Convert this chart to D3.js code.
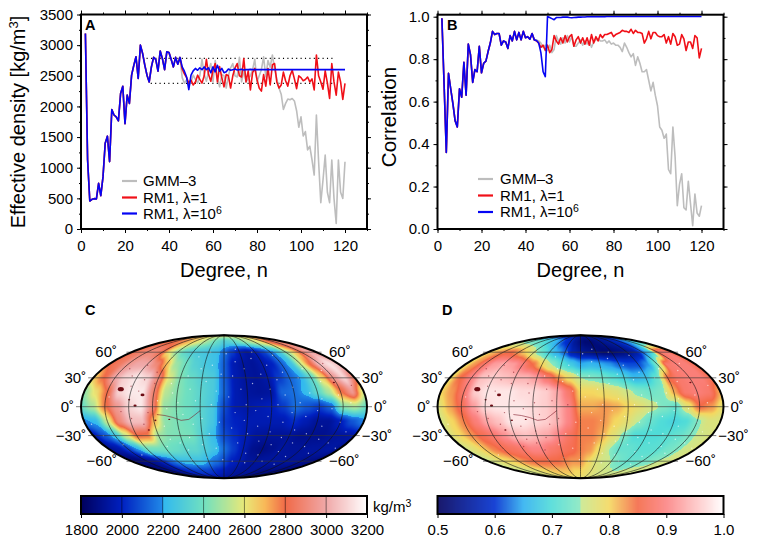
<!DOCTYPE html>
<html><head><meta charset="utf-8">
<script src="https://cdn.jsdelivr.net/npm/d3@7/dist/d3.min.js"></script>
<style>
html,body{margin:0;padding:0;background:#fff}
svg{display:block}
text{font-family:"Liberation Sans",Arial,Helvetica,sans-serif;fill:#000}
</style></head><body>
<svg id="chart" width="762" height="547"></svg>
<script>
// ---------- Panel A values (degree n = 2..120) ----------
const degrees = d3.range(2,121);
const sharedA = [3190,1125,456,485,495,490,745,545,850,1400,1515,1100,1950,1860,1830,1765,2210,2330,1720,2185,2050,2510,2670,2810,2455,3000,2865,2675,2510,2400,2645,2800,2765,2575,2905,2780,2600,2890,2880,2765,2645,2800,2690,2800];
const blueATail = [2645,2575,2480,2275,2510,2580,2620,2590,2630,2600,2645,2600,2630,2550,2645,2565,2670,2575,2620,2550,2565,2610,2590,2600,2610,2595,2600,2605,2595,2600,2600,2605,2600,2600,2600,2600,2600,2600,2600,2600,2600,2600,2600,2600,2600,2600,2600,2600,2600,2600,2600,2600,2600,2600,2600,2600,2600,2600,2600,2600,2600,2600,2600,2600,2600,2600,2600,2600,2600,2600,2600,2600,2600,2600,2600];
const redATail = [2610,2530,2470,2380,2430,2350,2400,2510,2440,2380,2500,2770,2520,2410,2590,2700,2400,2650,2470,2320,2520,2500,2300,2500,2630,2700,2500,2480,2780,2400,2580,2270,2550,2620,2440,2300,2250,2520,2330,2620,2350,2680,2700,2400,2300,2350,2560,2420,2330,2500,2590,2450,2290,2500,2470,2420,2440,2480,2400,2450,2270,2840,2500,2400,2280,2580,2380,2130,2700,2400,2185,2560,2400,2115,2375];
const grayATail = [2470,2380,2430,2350,2400,2510,2440,2380,2500,2770,2520,2410,2590,2700,2400,2750,2470,2320,2520,2500,2300,2500,2630,2700,2500,2480,2800,2400,2580,2400,2450,2500,2600,2770,2400,2500,2600,2810,2480,2750,2640,2840,2600,2450,2300,2200,1950,2050,2120,2110,2130,2090,1930,1660,1830,1517,1590,1290,1350,1130,880,1860,1100,430,800,1205,600,430,1125,500,90,1125,600,500,1098];
const grayA = sharedA.concat(grayATail);
const redA  = sharedA.concat(redATail);
const blueA = sharedA.concat(blueATail);
const boundHigh = [[29.8,2785],[114.5,2785]];
const boundLow  = [[31.7,2375],[114.5,2375]];

// ---------- Panel B values (degree n = 2..120) ----------
const sharedB = [.992,.68,.36,.733,.66,.59,.51,.48,.66,.62,.785,.63,.87,.82,.69,.75,.74,.86,.735,.78,.79,.835,.875,.93,.915,.92,.92,.865,.885,.88,.85,.91,.885,.93,.89,.925,.89,.93,.90,.905,.893,.92];
const blueBTail = [.89,.887,.875,.83,.74,.717,1.0,.995,.99,.985,.995,.995,.995,.997,.997,.997,.995,.994,.995,.996,.997,.997,.998,.998,.999,.999,.999,.999,.999,.999,.999,.999,.999,1,1,1,1,1,1,1,1,1,1,1,1,1,1,1,1,1,1,1,1,1,1,1,1,1,1,1,1,1,1,1,1,1,1,1,1,1,1,1,1,1,1,1,1];
const redBTail = [.89,.885,.875,.855,.865,.84,.865,.83,.845,.91,.885,.87,.90,.875,.91,.88,.905,.915,.86,.89,.905,.875,.90,.87,.90,.865,.915,.875,.905,.885,.915,.90,.915,.915,.92,.925,.905,.915,.92,.925,.935,.93,.93,.925,.94,.92,.935,.925,.925,.92,.875,.895,.93,.895,.925,.925,.91,.905,.905,.915,.875,.905,.87,.92,.905,.865,.87,.915,.895,.84,.88,.88,.85,.91,.90,.805,.85];
const grayBTail = [.89,.885,.875,.855,.865,.84,.865,.83,.845,.91,.885,.87,.90,.875,.91,.88,.905,.86,.86,.875,.89,.865,.885,.87,.885,.855,.88,.89,.895,.885,.885,.89,.875,.885,.87,.875,.865,.865,.855,.835,.875,.855,.83,.81,.825,.77,.81,.78,.74,.74,.75,.70,.65,.69,.63,.58,.48,.465,.427,.447,.28,.26,.48,.34,.11,.21,.26,.10,.09,.225,.12,.016,.165,.075,.06,.11];
const blueB = sharedB.concat(blueBTail);
const redB  = sharedB.concat(redBTail);
const grayB = sharedB.concat([.89],grayBTail);

// ---------- Legend / labels ----------
const xTickValues = [0,20,40,60,80,100,120];
const xMinorValues = d3.range(0,131,10);
const yTicksA = [0,500,1000,1500,2000,2500,3000,3500];
const yMinorA = d3.range(0,3501,250);
const yTicksB = [0,.2,.4,.6,.8,1];
const yMinorB = [0,.1,.2,.3,.4,.5,.6,.7,.8,.9,1];
const cbTicksC = [1800,2000,2200,2400,2600,2800,3000,3200];
const cbTicksD = [.5,.6,.7,.8,.9,1];
const latLabels = [60,30,0,-30,-60];
const meridians = d3.range(-150,151,30);
const parallels = [60,30,0,-30,-60];

// ---------- Colour ramps ----------
const rampCDomain = [1800,2000,2199,2200,2400,2600,2700,2800,3000,3200];
const rampCColors = ["#00005c","#0020c0","#2088e8","#30b8f0","#70e0c0","#e8e878","#f8b858","#f06a48","#f0a8a8","#ffffff"];
const rampDDomain = [.5,.6,.65,.7,.7495,.75,.8,.85,.9,1];
const rampDColors = ["#00005c","#0030d0","#30b0f0","#50dcd8","#88e8c0","#c8e890","#f4d860","#f46a48","#fc8484","#ffffff"];

// ---------- Map fields: rows lat 90..-90 step 15, columns lon -180..180 step 15 ----------
const fieldC = [
[2600,2600,2600,2600,2600,2600,2600,2600,2600,2600,2600,2600,2600,2600,2600,2600,2600,2600,2600,2600,2600,2600,2600,2600,2600],
[2750,2800,2800,2780,2750,2700,2640,2580,2520,2460,2400,2350,2300,2320,2350,2400,2450,2500,2560,2600,2720,2800,2850,2880,2800],
[2800,2860,2900,2900,2820,2600,2450,2350,2300,2280,2260,2240,2150,2050,1970,1930,1970,2050,2150,2250,2450,2650,2850,3000,2950],
[2800,2850,2950,3000,3000,2900,2700,2480,2400,2320,2280,2250,2120,1970,1930,1920,1950,2000,2120,2250,2550,2800,3050,3130,3050],
[2650,2800,3000,3100,3150,3100,2900,2580,2430,2370,2320,2290,2120,1970,1930,1920,1950,2050,2130,2200,2350,2650,2950,3100,2850],
[2450,2620,2800,3100,3150,3150,2880,2520,2440,2390,2340,2290,2130,1970,1930,1920,1930,2130,2150,2220,2350,2500,2780,2950,2550],
[2380,2500,2780,2950,3100,3150,2900,2470,2430,2390,2340,2280,2080,1970,1950,1970,1990,2050,2150,2100,2050,2130,2450,2500,2380],
[2180,2220,2550,2900,3050,3050,2700,2450,2420,2400,2340,2270,2050,2000,1970,1970,1970,1970,2020,1970,1920,1920,1990,2100,2180],
[1950,2100,2250,2550,2800,2780,2480,2430,2420,2410,2320,2230,2080,2020,1970,1930,1920,1920,1920,1900,1900,1900,1920,1930,1950],
[1900,1950,2050,2200,2400,2400,2400,2380,2350,2350,2300,2250,2150,2050,1970,1900,1880,1900,1930,1920,1920,1930,1930,1940,1900],
[1850,1850,1880,1920,2000,2120,2200,2240,2250,2250,2200,2150,2080,2000,1970,1930,1920,1930,1930,1930,1920,1920,1900,1880,1850],
[1850,1850,1880,1900,1950,2000,2020,2050,2050,2050,2030,2000,1980,1950,1930,1920,1920,1920,1900,1880,1880,1870,1860,1850,1850],
[1900,1900,1900,1900,1900,1900,1900,1900,1900,1900,1900,1900,1900,1900,1900,1900,1900,1900,1900,1900,1900,1900,1900,1900,1900]
];
const fieldD = [
[.55,.55,.55,.55,.55,.55,.55,.55,.55,.55,.55,.55,.55,.55,.55,.55,.55,.55,.55,.55,.55,.55,.55,.55,.55],
[.76,.75,.74,.73,.72,.70,.68,.66,.63,.60,.58,.55,.53,.52,.52,.53,.54,.55,.56,.58,.60,.63,.66,.70,.75],
[.79,.82,.84,.85,.83,.80,.76,.72,.68,.65,.62,.57,.55,.54,.53,.52,.52,.53,.54,.56,.62,.68,.87,.89,.84],
[.79,.83,.88,.92,.93,.92,.89,.85,.80,.75,.71,.68,.65,.66,.65,.64,.62,.61,.61,.64,.74,.88,.89,.89,.86],
[.79,.85,.90,.95,.96,.95,.94,.94,.92,.88,.83,.79,.75,.74,.73,.71,.69,.66,.67,.72,.85,.88,.89,.89,.86],
[.80,.83,.88,.96,.98,.98,.98,.97,.97,.96,.93,.88,.80,.80,.79,.78,.76,.74,.73,.74,.82,.88,.89,.88,.82],
[.77,.82,.86,.92,.97,.98,.98,.98,.97,.96,.94,.90,.82,.82,.83,.82,.80,.78,.76,.74,.72,.78,.85,.83,.78],
[.76,.80,.84,.89,.93,.95,.98,.98,.97,.96,.94,.90,.84,.84,.83,.80,.78,.75,.72,.70,.69,.70,.74,.77,.77],
[.77,.80,.83,.86,.88,.91,.94,.95,.94,.93,.90,.87,.84,.84,.82,.78,.74,.70,.70,.70,.71,.72,.74,.76,.77],
[.76,.78,.81,.84,.86,.87,.88,.90,.90,.88,.87,.86,.84,.83,.79,.75,.72,.72,.71,.71,.71,.73,.74,.76,.77],
[.75,.77,.79,.80,.82,.84,.85,.85,.85,.85,.84,.83,.83,.80,.77,.76,.75,.73,.72,.72,.73,.74,.75,.76,.77],
[.75,.76,.76,.77,.78,.79,.80,.81,.81,.81,.81,.80,.80,.79,.78,.77,.76,.76,.75,.75,.76,.76,.76,.76,.76],
[.78,.78,.78,.78,.78,.78,.78,.78,.78,.78,.78,.78,.78,.78,.78,.78,.78,.78,.78,.78,.78,.78,.78,.78,.78]
];
// Dark volcano / canyon features on both maps [lon, lat, radius]
const darkSpots = [[-134,18,3.0],[-112,1,1.6],[-104,12,2.0],[-120,7,1.1],[-70,-13,1.0],[-88,-14,1.1],[-100,-24,1.1],[147,25,1.1]];
const canyon = [[-85,-8],[-75,-9],[-65,-11],[-55,-14],[-45,-13],[-38,-9],[-30,-4]];
// Cratered-terrain flecks, placed by eye [lon, lat]
const flecks = [[-140,40],[-128,32],[-118,44],[-108,28],[-96,36],[-122,21],[-110,16],[-92,24],[-146,10],[-130,-5],[-118,-12],[-104,-18],[-96,-6],[-84,6],[-78,-20],[-72,-2],[-66,14],[-60,-25],[-58,4],[-52,-8],[-48,-32],[-44,18],[-40,-18],[-36,6],[-32,-40],[-28,-12],[-24,26],[-20,-28],[-16,2],[-12,-44],[-10,16],[-6,-16],[-4,34],[-64,-38],[-56,-46],[-76,-34],[-86,-42],[-94,-30],[-70,24],[-50,32],[-34,40],[-18,44],
[6,10],[10,-22],[12,32],[14,-6],[18,48],[20,-38],[22,18],[26,-14],[28,2],[30,40],[32,-28],[36,-50],[38,24],[40,-4],[44,-20],[46,52],[48,8],[50,-36],[52,34],[56,-10],[58,-52],[60,18],[62,-26],[66,44],[68,2],[70,-40],[72,28],[76,-16],[78,12],[80,-32],[84,36],[86,-6],[88,-48],[90,20],[94,-24],[96,4],[100,-38],[102,30],[104,-10],[108,-54],[110,14],[112,-28],[116,40],[118,-4],[122,-42],[124,8],[128,-20],[130,26],[134,-34],[136,-2],[140,-50],[142,38],[146,12],[150,-16],[152,-38],[156,46],[160,4],[164,-26],[168,22],[172,-44],
[-2,-58],[16,-60],[42,-62],[74,-60],[106,-64],[-30,-55],[-60,-58],[-44,54],[-26,60],[4,58],[24,64],[54,60],[88,56],[-150,-40],[-166,-30],[-140,-52],[-172,-18]];

// ---------- Drawing ----------
const svg = d3.select("#chart");
const FONT = 15;
const TITLE = 20;

function lineAxes(g, x, y, yTicks, yMinor, yFmt){
  const [x0,x1]=x.range(), [y0,y1]=y.range();
  const style = s => s.call(a=>a.select(".domain").remove())
     .call(a=>a.selectAll("line").attr("stroke","#000").attr("stroke-width",1))
     .call(a=>a.selectAll("text").attr("font-size",FONT));
  g.append("g").attr("transform",`translate(0,${y0})`).call(d3.axisBottom(x).tickValues(xMinorValues).tickSize(2).tickFormat("")).call(style);
  g.append("g").attr("transform",`translate(0,${y1})`).call(d3.axisTop(x).tickValues(xMinorValues).tickSize(2).tickFormat("")).call(style);
  g.append("g").attr("transform",`translate(${x0},0)`).call(d3.axisLeft(y).tickValues(yMinor).tickSize(2).tickFormat("")).call(style);
  g.append("g").attr("transform",`translate(${x1},0)`).call(d3.axisRight(y).tickValues(yMinor).tickSize(2).tickFormat("")).call(style);
  g.append("g").attr("transform",`translate(0,${y0})`).call(d3.axisBottom(x).tickValues(xTickValues).tickSize(4).tickPadding(7).tickFormat(d3.format("d"))).call(style);
  g.append("g").attr("transform",`translate(0,${y1})`).call(d3.axisTop(x).tickValues(d3.range(0,131,20)).tickSize(4).tickFormat("")).call(style);
  g.append("g").attr("transform",`translate(${x0},0)`).call(d3.axisLeft(y).tickValues(yTicks).tickSize(4).tickPadding(4).tickFormat(yFmt)).call(style);
  g.append("g").attr("transform",`translate(${x1},0)`).call(d3.axisRight(y).tickValues(yTicks).tickSize(4).tickFormat("")).call(style);
  g.append("rect").attr("x",x0).attr("y",y1).attr("width",x1-x0).attr("height",y0-y1)
    .attr("fill","none").attr("stroke","#000").attr("stroke-width",2);
}
function drawSeries(g,x,y,vals,color){
  g.append("path").datum(vals.map((v,i)=>[degrees[i],v]))
   .attr("fill","none").attr("stroke",color).attr("stroke-width",1.6).attr("stroke-linejoin","round")
   .attr("d",d3.line().x(d=>x(d[0])).y(d=>y(d[1])));
}
const GRAY="#bdbdbd",RED="#f01018",BLUE="#0404f4";
function legend(g,x0,tx,ys){
  const items=[[GRAY,"GMM\u20133"],[RED,"RM1, \u03bb=1"],[BLUE,"RM1, \u03bb=10"]];
  items.forEach((it,i)=>{
    g.append("line").attr("x1",x0).attr("x2",x0+15).attr("y1",ys[i]).attr("y2",ys[i]).attr("stroke",it[0]).attr("stroke-width",2.2);
    const t=g.append("text").attr("x",tx).attr("y",ys[i]+5).attr("font-size",FONT).text(it[1]);
    if(i==2) t.append("tspan").attr("dy",-5).attr("font-size",10.5).text("6");
  });
}

// Panel A
const xA=d3.scaleLinear([0,130],[81,367]);
const yA=d3.scaleLinear([0,3500],[229,14.5]);
const gA=svg.append("g");
[boundHigh,boundLow].forEach(b=>gA.append("line").attr("x1",xA(b[0][0])).attr("x2",xA(b[1][0])).attr("y1",yA(b[0][1])).attr("y2",yA(b[1][1]))
   .attr("stroke","#000").attr("stroke-width",1.2).attr("stroke-dasharray","1.1 3.3"));
drawSeries(gA,xA,yA,grayA,GRAY);
drawSeries(gA,xA,yA,redA,RED);
drawSeries(gA,xA,yA,blueA,BLUE);
lineAxes(gA,xA,yA,yTicksA,yMinorA,d3.format("d"));
legend(gA,122,143,[181,197.5,213.5]);
gA.append("text").attr("x",85).attr("y",29.5).attr("font-size",14.5).attr("font-weight","bold").text("A");
gA.append("text").attr("x",224).attr("y",277).attr("text-anchor","middle").attr("font-size",TITLE).text("Degree, n");
const yl=gA.append("text").attr("transform","translate(25,122) rotate(-90)").attr("text-anchor","middle").attr("font-size",TITLE).text("Effective density [kg/m");
yl.append("tspan").attr("dy",-7).attr("font-size",13).text("3");
yl.append("tspan").attr("dy",7).text("]");

// Panel B
const xB=d3.scaleLinear([0,130],[437.5,723.5]);
const yB=d3.scaleLinear([0,1],[229,16.5]);
const gB=svg.append("g");
drawSeries(gB,xB,yB,grayB,GRAY);
drawSeries(gB,xB,yB,redB,RED);
drawSeries(gB,xB,yB,blueB,BLUE);
lineAxes(gB,xB,d3.scaleLinear([0,1.0094],[229,14.7]),yTicksB,yMinorB,d3.format(".1f"));
legend(gB,478,500,[179,195.5,212]);
gB.append("text").attr("x",447).attr("y",29.5).attr("font-size",14.5).attr("font-weight","bold").text("B");
gB.append("text").attr("x",580.5).attr("y",277).attr("text-anchor","middle").attr("font-size",TITLE).text("Degree, n");
gB.append("text").attr("transform","translate(396,117) rotate(-90)").attr("text-anchor","middle").attr("font-size",TITLE+.5).text("Correlation");

// Mollweide raw projection
function mollweideRaw(l,p){
  const target=Math.PI*Math.sin(p);
  let t=p;
  for(let i=0;i<30;i++){
    const d=(2*t+Math.sin(2*t)-target)/(2+2*Math.cos(2*t)+1e-12);
    t-=d; if(Math.abs(d)<1e-9)break;
  }
  return [2*Math.SQRT2/Math.PI*l*Math.cos(t),Math.SQRT2*Math.sin(t)];
}
mollweideRaw.invert=function(x,y){
  const t=Math.asin(Math.max(-1,Math.min(1,y/Math.SQRT2)));
  return [Math.PI*x/(2*Math.SQRT2*Math.cos(t)),Math.asin(Math.max(-1,Math.min(1,(2*t+Math.sin(2*t))/Math.PI)))];
};

function sampleField(f,lon,lat){
  const c=(lon+180)/15, r=(90-lat)/15;
  const c0=Math.min(23,Math.floor(c)), r0=Math.min(11,Math.floor(r));
  const a=c-c0,b=r-r0;
  const sa=a*a*(3-2*a)*.7+a*.3, sb=b*b*(3-2*b)*.7+b*.3;
  return (f[r0][c0]*(1-sa)+f[r0][c0+1]*sa)*(1-sb)+(f[r0+1][c0]*(1-sa)+f[r0+1][c0+1]*sa)*sb;
}

function drawMap(cx,field,color,domain,letter,letterX){
  const proj=d3.geoProjection(mollweideRaw).rotate([0,0]).center([0,0]).precision(.2)
    .scale(143/(2*Math.SQRT2)).translate([cx,406.7]);
  const path=d3.geoPath(proj);
  const g=svg.append("g");
  const W=290,H=146,ox=Math.round(cx-145),oy=334;
  const cv=document.createElement("canvas");cv.width=W;cv.height=H;
  const ctx=cv.getContext("2d");const img=ctx.createImageData(W,H);
  for(let j=0;j<H;j++)for(let i=0;i<W;i++){
    const ll=proj.invert([ox+i+.5,oy+j+.5]);
    if(!ll||Math.abs(ll[0])>181||isNaN(ll[1]))continue;
    const col=d3.rgb(color(sampleField(field,Math.max(-180,Math.min(180,ll[0])),ll[1])));
    const k=(j*W+i)*4;img.data[k]=col.r;img.data[k+1]=col.g;img.data[k+2]=col.b;img.data[k+3]=255;
  }
  ctx.putImageData(img,0,0);
  const clipId="clip"+letter;
  svg.append("clipPath").attr("id",clipId).append("path").attr("d",path({type:"Sphere"}));
  g.append("image").attr("x",ox).attr("y",oy).attr("width",W).attr("height",H).attr("href",cv.toDataURL()).attr("clip-path",`url(#${clipId})`);
  // features
  const feat=g.append("g").attr("clip-path",`url(#${clipId})`);
  const hi=domain[0]+(domain[1]-domain[0])*.78;
  flecks.forEach(f=>{
    const p=proj(f),v=sampleField(field,f[0],f[1]);
    feat.append("circle").attr("cx",p[0]).attr("cy",p[1]).attr("r",.7)
      .attr("fill",v>hi?"#8a1a28":"#ffffff").attr("fill-opacity",v>hi?.6:.65);
  });
  feat.append("path").attr("d",path({type:"LineString",coordinates:canyon})).attr("fill","none").attr("stroke","#7a1020").attr("stroke-width",.7).attr("stroke-opacity",.8);
  darkSpots.forEach(s=>{const p=proj([s[0],s[1]]);
    feat.append("ellipse").attr("cx",p[0]).attr("cy",p[1]).attr("rx",s[2]).attr("ry",s[2]*.7).attr("fill","#6e0c14");});
  // meridians
  meridians.forEach(m=>{
    g.append("path").attr("d",path({type:"LineString",coordinates:d3.range(-90,90.01,3).map(l=>[m,l])}))
      .attr("fill","none").attr("stroke","#111").attr("stroke-width",.7).attr("stroke-opacity",.85);
  });
  // parallels with small overhang
  parallels.forEach(l=>{
    const a=proj([-180,l]),b=proj([180,l]);
    g.append("line").attr("x1",a[0]-5).attr("x2",b[0]+5).attr("y1",a[1]).attr("y2",b[1])
      .attr("stroke","#333").attr("stroke-width",.9).attr("stroke-opacity",.7);
  });
  g.append("path").attr("d",path({type:"Sphere"})).attr("fill","none").attr("stroke","#000").attr("stroke-width",2);
  // labels
  latLabels.forEach(l=>{
    const a=proj([-180,l]),b=proj([180,l]);
    const s=(l<0?"\u2212":"")+Math.abs(l)+"\u02da";
    const dx=Math.abs(l)==60?[cx-107,cx+105]:[a[0]-7,b[0]+7];
    g.append("text").attr("x",dx[0]).attr("y",a[1]+5).attr("text-anchor","end").attr("font-size",FONT).text(s);
    g.append("text").attr("x",dx[1]).attr("y",b[1]+5).attr("text-anchor","start").attr("font-size",FONT).text(s);
  });
  g.append("text").attr("x",letterX).attr("y",315).attr("font-size",14.5).attr("font-weight","bold").text(letter);
}

const colorC=d3.scaleLinear(rampCDomain,rampCColors).clamp(true);
const colorD=d3.scaleLinear(rampDDomain,rampDColors).clamp(true);
drawMap(224,fieldC,colorC,[1800,3200],"C",85);
drawMap(580.5,fieldD,colorD,[.5,1],"D",442);

// Colour bars
function colorbar(x,color,ticks,fmt,inner){
  const g=svg.append("g");
  const [a,b]=x.range();
  d3.range(a,b,1).forEach(px=>{
    g.append("rect").attr("x",px).attr("y",496).attr("width",1.3).attr("height",18).attr("fill",color(x.invert(px+.5)));
  });
  if(inner) ticks.slice(1,-1).forEach(t=>g.append("line").attr("x1",x(t)).attr("x2",x(t)).attr("y1",496).attr("y2",514).attr("stroke","#000").attr("stroke-opacity",.6).attr("stroke-width",.8));
  const ax=g.append("g").attr("transform","translate(0,514)").call(d3.axisBottom(x).tickValues(ticks).tickSize(4).tickPadding(6).tickFormat(fmt));
  ax.select(".domain").remove();
  ax.selectAll("line").attr("stroke","#000");
  ax.selectAll("text").attr("font-size",FONT);
  g.append("rect").attr("x",a).attr("y",496).attr("width",b-a).attr("height",18).attr("fill","none").attr("stroke","#000").attr("stroke-width",2);
}
colorbar(d3.scaleLinear([1800,3200],[81,367]),colorC,cbTicksC,d3.format("d"),true);
colorbar(d3.scaleLinear([.5,1],[437.5,723.5]),colorD,cbTicksD,d3.format(".1f"),false);
const unit=svg.append("text").attr("x",373).attr("y",512).attr("font-size",FONT).text("kg/m");
unit.append("tspan").attr("dy",-5).attr("font-size",10.5).text("3");
</script>
</body></html>
